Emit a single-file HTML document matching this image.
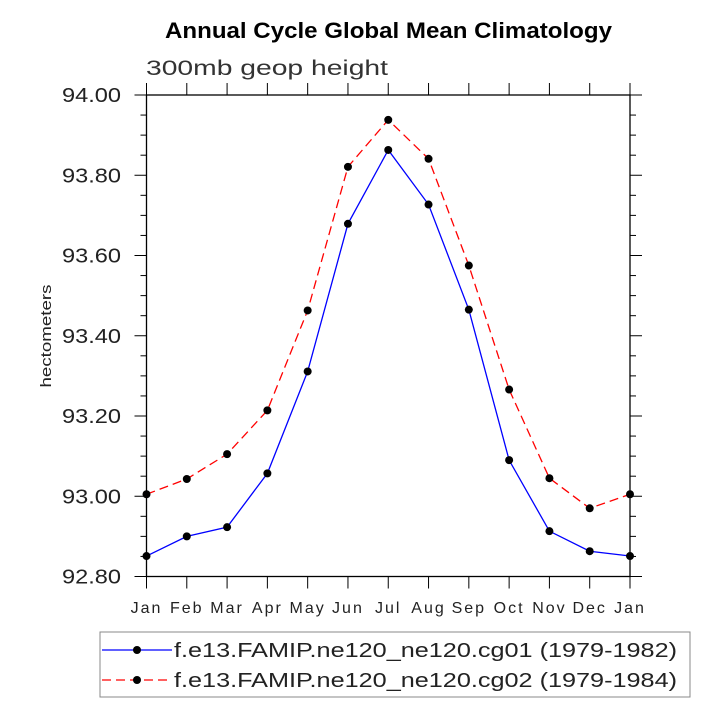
<!DOCTYPE html>
<html><head><meta charset="utf-8"><style>body{margin:0;background:#fff}svg{display:block;font-family:"Liberation Sans",sans-serif}</style></head>
<body>
<svg id="chart" width="718" height="716" xmlns="http://www.w3.org/2000/svg">
<text x="165" y="38" font-size="22" font-weight="bold" textLength="447" lengthAdjust="spacingAndGlyphs">Annual Cycle Global Mean Climatology</text>
<text x="146" y="75" font-size="21" fill="#333" textLength="242" lengthAdjust="spacingAndGlyphs">300mb geop height</text>
<text transform="translate(51,336) rotate(-90)" text-anchor="middle" font-size="15" fill="#222" textLength="103" lengthAdjust="spacingAndGlyphs">hectometers</text>
<g id="axes"></g><g id="series"></g>
<rect x="100" y="632" width="590" height="65" fill="none" stroke="#888" stroke-width="1"/>
<g>
<line x1="102" y1="650" x2="172" y2="650" stroke="#0000ff" stroke-width="1.2"/><circle cx="137" cy="650" r="4" fill="#000"/>
<text x="174" y="657" font-size="20" fill="#222" textLength="503" lengthAdjust="spacingAndGlyphs">f.e13.FAMIP.ne120_ne120.cg01 (1979-1982)</text></g>
<g>
<line x1="102" y1="680" x2="172" y2="680" stroke="#ff0000" stroke-width="1.2" stroke-dasharray="9,5"/><circle cx="137" cy="680" r="4" fill="#000"/>
<text x="174" y="687" font-size="20" fill="#222" textLength="503" lengthAdjust="spacingAndGlyphs">f.e13.FAMIP.ne120_ne120.cg02 (1979-1984)</text></g>
</svg>
<script>
const months=["Jan","Feb","Mar","Apr","May","Jun","Jul","Aug","Sep","Oct","Nov","Dec","Jan"];
const cg01=[92.851,92.900,92.923,93.057,93.311,93.679,93.863,93.727,93.465,93.090,92.913,92.863,92.851];
const cg02=[93.005,93.043,93.105,93.214,93.463,93.821,93.938,93.841,93.575,93.266,93.045,92.970,93.005];
const yTicks=[92.8,93.0,93.2,93.4,93.6,93.8,94.0];
const L=146.5,R=630,T=95,B=576.5,ymin=92.8,ymax=94.0;
const X=i=>L+(R-L)*i/(months.length-1);
const Y=v=>B-(v-ymin)/(ymax-ymin)*(B-T);
const NS="http://www.w3.org/2000/svg";
function mk(p,t,a){const e=document.createElementNS(NS,t);for(const k in a)e.setAttribute(k,a[k]);p.appendChild(e);return e;}
const ax=document.getElementById('axes');
const frame=mk(ax,'rect',{x:L,y:T,width:R-L,height:B-T,fill:'none',stroke:'#000','stroke-width':1.3});


months.forEach((m,i)=>{const x=X(i);
mk(ax,'line',{x1:x,y1:B,x2:x,y2:B+12,stroke:'#000'});
mk(ax,'line',{x1:x,y1:T,x2:x,y2:T-12,stroke:'#000'});
const t=mk(ax,'text',{x:x,y:613,'text-anchor':'middle','font-size':16,fill:'#222','letter-spacing':2});t.textContent=m;

});
for(let v=ymin;v<=ymax+1e-9;v+=0.05){const y=Y(v);const maj=Math.abs((v-ymin)/0.2-Math.round((v-ymin)/0.2))<1e-6;const len=maj?12:6;
mk(ax,'line',{x1:L-len,y1:y,x2:L,y2:y,stroke:'#000'});mk(ax,'line',{x1:R,y1:y,x2:R+len,y2:y,stroke:'#000'});}
yTicks.forEach(v=>{const t=mk(ax,'text',{x:62,y:Y(v)+7,'font-size':20,fill:'#222',textLength:59,lengthAdjust:'spacingAndGlyphs'});t.textContent=v.toFixed(2);

});
const sg=document.getElementById('series');
function draw(vals,color,dash,name){const pts=vals.map((v,i)=>X(i)+','+Y(v)).join(' ');
const pl=mk(sg,'polyline',{points:pts,fill:'none',stroke:color,'stroke-width':1.3,'stroke-dasharray':dash});


vals.forEach((v,i)=>{const c=mk(sg,'circle',{cx:X(i),cy:Y(v),r:4,fill:'#000'});

});}
draw(cg01,'#0000ff','none','cg01');
draw(cg02,'#ff0000','9,5','cg02');
</script>
</body></html>
